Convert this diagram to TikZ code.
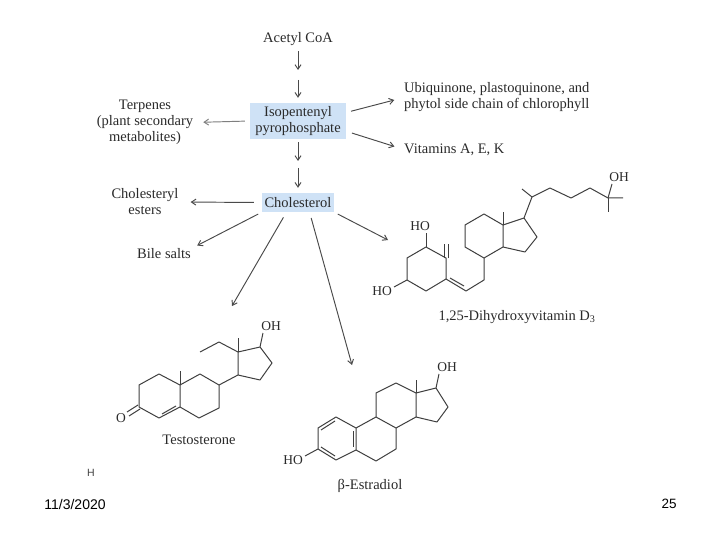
\documentclass[tikz,border=0pt]{standalone}
\usepackage{fontspec}
\setmainfont{Liberation Serif}
\newfontfamily\footfont{Liberation Sans}
\usetikzlibrary{arrows.meta}
\definecolor{boxblue}{HTML}{CFE2F6}
\definecolor{inkc}{HTML}{2A2A2A}
\tikzset{
  lab/.style={inner sep=0pt,align=center,text=inkc,font=\fontsize{14.5}{16}\selectfont},
  labl/.style={lab,align=left,anchor=west},
  hl/.style={lab,fill=boxblue,minimum width=#1},
  arr/.style={draw=inkc!85,line width=0.95pt,-{Straight Barb[length=4.5pt,width=6pt]}},
  bond/.style={draw=inkc!90,line width=1pt,line join=round},
  atom/.style={inner sep=0pt,text=inkc,font=\fontsize{13.5}{15}\selectfont},
  foot/.style={inner sep=0pt,text=black,font=\footfont\fontsize{13.5}{16}\selectfont}
}
\begin{document}
\begin{tikzpicture}[x=1pt,y=-1pt]
\useasboundingbox (0,0) rectangle (720,540);
\fill[white] (0,0) rectangle (720,540);
% labels
\node[lab] (acetyl) at (298,39.5) {Acetyl CoA};
\node[hl=96pt,minimum height=36pt] (iso) at (298,121) {Isopentenyl\\pyrophosphate};
\node[hl=72pt,minimum height=19pt] (chol) at (298,202.5) {Cholesterol};
\node[lab] (terp) at (145,122.5) {Terpenes\\(plant secondary\\metabolites)};
\node[lab] (esters) at (145,202) {Cholesteryl\\esters};
\node[lab] (bile) at (164,254) {Bile salts};
\node[labl] (ubi) at (404,97.5) {Ubiquinone, plastoquinone, and\\phytol side chain of chlorophyll};
\node[labl] (vit) at (404,149.5) {Vitamins A, E, K};
\node[lab] (dlab) at (517,317) {1,25-Dihydroxyvitamin D\textsubscript{3}};
\node[lab] (tlab) at (199,440) {Testosterone};
\node[lab] (elab) at (370,485.5) {β-Estradiol};
% free connector ends
\coordinate (a1) at (298,70);
\coordinate (a2) at (298,80);
\coordinate (b1) at (298,161);
\coordinate (b2) at (298,168);
\coordinate (tipT) at (232,306);
\coordinate (tipE) at (352,365);
\coordinate (tipD) at (388,240);
% connectors
\draw[arr,shorten <=5pt] (acetyl) -- (a1);
\draw[arr,shorten >=5pt] (a2) -- (iso);
\draw[arr,shorten <=3pt] (iso) -- (b1);
\draw[arr,shorten >=5pt] (b2) -- (chol);
\draw[arr,draw=inkc!60,shorten <=5pt,shorten >=10pt] (iso.west) -- (terp.east);
\draw[arr,shorten <=5pt,shorten >=10pt] (iso.10) -- (ubi.west);
\draw[arr,shorten <=6pt,shorten >=10pt] (iso.-12) -- (vit.west);
\draw[arr,shorten <=8pt,shorten >=12pt] (chol.west) -- (esters.east);
\draw[arr,shorten <=4pt,shorten >=7pt] (chol.south west) -- (bile.north east);
\draw[arr,shorten <=6pt] (chol.-140) -- (tipT);
\draw[arr,shorten <=6pt] (chol.-40) -- (tipE);
\draw[arr,shorten <=4pt] (chol.south east) -- (tipD);
% vitamin D3
\draw[bond] (522,189)--(532,197)--(550,188)--(571,198)--(590,188)--(608,198)--(623,198);
\draw[bond] (608,198)--(608,212);
\draw[bond] (608,198)--(612,184);
\draw[bond] (532,197)--(524,218);
\draw[bond] (524,218)--(537,237)--(525,252)--(503,247)--(503,225)--cycle;
\draw[bond] (503,225)--(503,212);
\draw[bond] (503,225)--(484,214)--(465,225)--(465,247)--(484,258)--(503,247);
\draw[bond] (484,258)--(484,280)--(466,291)--(446,279);
\draw[bond] (450,278)--(464,286);
\draw[bond] (446,279)--(446,258)--(426,247)--(407,258)--(407,280)--(426,291)--cycle;
\draw[bond] (444,258)--(444,244) (448,258)--(448,244);
\draw[bond] (426,247)--(426,233);
\draw[bond] (407,280)--(394,287);
\node[atom] (oh25) at (619,177) {OH};
\node[atom] (ho1) at (420,226) {HO};
\node[atom] (ho3) at (382,291) {HO};
% testosterone
\draw[bond] (260,347)--(272,363)--(260,380)--(238,375)--(238,352)--cycle;
\draw[bond] (260,347)--(263,333);
\draw[bond] (238,352)--(238,338);
\draw[bond] (238,352)--(219,342)--(200,352);
\draw[bond] (238,375)--(219,385)--(200,374)--(180,385);
\draw[bond] (219,385)--(219,408)--(199,418)--(180,407)--(180,385);
\draw[bond] (180,385)--(180,371);
\draw[bond] (180,385)--(159,374)--(139,385)--(139,407)--(159,418)--(180,407);
\draw[bond] (162,414)--(176,406);
\draw[bond] (138,405)--(127,412) (140,409)--(129,416);
\node[atom] (oh17t) at (271,326) {OH};
\node[atom] (ot) at (121,418) {O};
% estradiol
\draw[bond] (436,388)--(448,407)--(437,422)--(416,417)--(416,393)--cycle;
\draw[bond] (436,388)--(439,374);
\draw[bond] (416,393)--(416,380);
\draw[bond] (416,393)--(396,383)--(376,393)--(376,417)--(396,428)--(416,417);
\draw[bond] (376,417)--(356,428)--(356,450)--(376,461)--(396,449)--(396,428);
\draw[bond] (353,431)--(353,447);
\draw[bond] (356,428)--(336,417)--(318,428)--(318,449)--(336,460)--(356,450);
\draw[bond] (321,430)--(335,421) (321,447)--(335,456);
\draw[bond] (318,449)--(305,456);
\node[atom] (oh17e) at (447,367) {OH};
\node[atom] (hoe) at (293,460) {HO};
% footer
\node[foot,text=black!75,font=\footfont\fontsize{10.5}{12}\selectfont] (frag) at (91,472.5) {H};
\node[foot,font=\footfont\fontsize{14}{16}\selectfont] (date) at (75,504) {11/3/2020};
\node[foot] (page) at (669,504) {25};
\end{tikzpicture}
\end{document}
